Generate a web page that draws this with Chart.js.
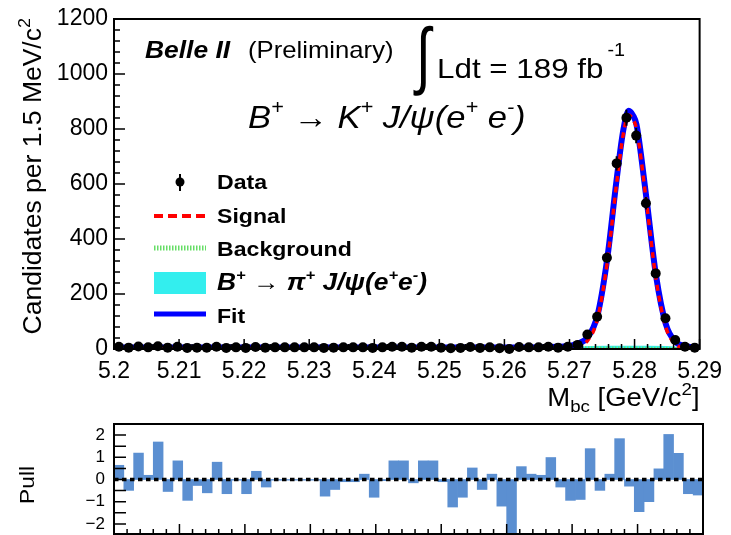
<!DOCTYPE html>
<html>
<head>
<meta charset="utf-8">
<script src="https://cdn.jsdelivr.net/npm/chart.js@4.4.1/dist/chart.umd.min.js"></script>
<style>
  html, body { margin: 0; padding: 0; background: #fff; }
  #wrap { position: relative; width: 731px; height: 535px; overflow: hidden; }
  #mainChart { position: absolute; left: 0; top: 0; }
  #pullChart { position: absolute; left: 0; top: 415px; }
</style>
</head>
<body>
<div id="wrap">
  <canvas id="mainChart" width="731" height="415"></canvas>
  <canvas id="pullChart" width="731" height="120"></canvas>
</div>
<script>
// Histogram bin centres (1.5 MeV bins from 5.20 to 5.29 GeV)
const binCenters = [
  5.20075, 5.20225, 5.20375, 5.20525, 5.20675, 5.20825, 5.20975, 5.21125, 5.21275, 5.21425,
  5.21575, 5.21725, 5.21875, 5.22025, 5.22175, 5.22325, 5.22475, 5.22625, 5.22775, 5.22925,
  5.23075, 5.23225, 5.23375, 5.23525, 5.23675, 5.23825, 5.23975, 5.24125, 5.24275, 5.24425,
  5.24575, 5.24725, 5.24875, 5.25025, 5.25175, 5.25325, 5.25475, 5.25625, 5.25775, 5.25925,
  5.26075, 5.26225, 5.26375, 5.26525, 5.26675, 5.26825, 5.26975, 5.27125, 5.27275, 5.27425,
  5.27575, 5.27725, 5.27875, 5.28025, 5.28175, 5.28325, 5.28475, 5.28625, 5.28775, 5.28925
];

// Candidates per bin
const dataCounts = [
  8, 5, 9, 6, 10, 5, 8, 4, 5, 5,
  8, 4, 6, 4, 7, 5, 6, 6, 6, 6,
  6, 4, 5, 6, 6, 6, 4, 6, 8, 8,
  5, 8, 8, 5, 3, 4, 7, 4, 6, 3,
  0, 7, 6, 6, 8, 5, 8, 15, 53, 117,
  332, 675, 841, 776, 530, 275, 112, 33, 8, 5
];

// Pull per bin
const pullValues = [
  0.64, -0.49, 1.19, 0.19, 1.69, -0.54, 0.84, -0.94, -0.27, -0.60,
  0.78, -0.64, -0.03, -0.64, 0.37, -0.34, -0.03, -0.03, -0.03, -0.03,
  -0.03, -0.75, -0.45, -0.10, -0.10, 0.24, -0.80, -0.05, 0.84, 0.84,
  -0.15, 0.84, 0.84, -0.10, -1.24, -0.80, 0.52, -0.45, 0.24, -1.20,
  -2.60, 0.58, 0.24, 0.19, 0.99, -0.34, -0.94, -0.90, 1.39, -0.49,
  0.24, 1.84, -0.30, -1.45, -1.00, 0.48, 2.03, 1.18, -0.64, -0.70
];

// Fit curves sampled along M_bc
const curveX = [5.200, 5.215, 5.230, 5.245, 5.260, 5.266, 5.268, 5.2698, 5.2712, 5.2728, 5.2743, 5.2758,
  5.2773, 5.2783, 5.2791, 5.2798, 5.2803, 5.2818, 5.2833, 5.2848, 5.2863, 5.2878, 5.2893, 5.290];
const fitY = [5.5, 5.5, 5.4, 5.3, 5.2, 6, 8, 10, 19, 43, 122, 328,
  627, 800, 866, 848, 816, 553, 267, 91, 26, 10, 6, 5];
const signalY = [0, 0, 0, 0, 0, 0.5, 2, 4, 10, 31, 109, 314,
  612, 785, 851, 833, 801, 539, 254, 79, 17, 3, 0.5, 0];

const bkgX = [5.200, 5.220, 5.240, 5.260, 5.270, 5.280, 5.285, 5.288, 5.290];
const bkgY = [5.5, 5.4, 5.2, 4.8, 4.4, 3.5, 2.5, 1.3, 0];

const piX = [5.2705, 5.2715, 5.2730, 5.2760, 5.2790, 5.2820, 5.2850, 5.2865, 5.2875];
const piY = [0, 8, 11, 12, 12, 12, 11, 8, 0];

// Axis tick labels
const xTickValues = [5.2, 5.21, 5.22, 5.23, 5.24, 5.25, 5.26, 5.27, 5.28, 5.29];
const yTickValues = [0, 200, 400, 600, 800, 1000, 1200];
const pullTickValues = [-2, -1, 0, 1, 2];

const SANS = '"Liberation Sans", Arial, Helvetica, sans-serif';
function font(size, style) {
  return (style ? style + ' ' : '') + size + 'px ' + SANS;
}

// draw a run of text pieces (for super/subscripts), stretched by sx along the text
function drawParts(ctx, x, y, parts, sx) {
  ctx.save();
  ctx.translate(x, y);
  ctx.scale(sx, 1);
  let cx = 0;
  for (const p of parts) {
    ctx.font = p.font;
    ctx.fillText(p.t, cx, p.dy || 0);
    cx += ctx.measureText(p.t).width;
  }
  ctx.restore();
  return cx * sx;
}
function partsWidth(ctx, parts, sx) {
  let w = 0;
  ctx.save();
  for (const p of parts) {
    ctx.font = p.font;
    w += ctx.measureText(p.t).width;
  }
  ctx.restore();
  return w * sx;
}

// inward ROOT-style ticks
function xTicks(ctx, scale, yBase, dir, min, step, count, every, majLen, minLen) {
  for (let i = 0; i <= count; i++) {
    const px = scale.getPixelForValue(min + i * step);
    const len = i % every === 0 ? majLen : minLen;
    ctx.moveTo(px, yBase);
    ctx.lineTo(px, yBase + dir * len);
  }
}
function yTicks(ctx, scale, xBase, min, step, count, every, majLen, minLen) {
  for (let i = 0; i <= count; i++) {
    const py = scale.getPixelForValue(min + i * step);
    const len = i % every === 0 ? majLen : minLen;
    ctx.moveTo(xBase, py);
    ctx.lineTo(xBase + len, py);
  }
}

// keep the plot area where the layout padding puts it
function fixYAxis(s) {
  s.width = 114;
  s.paddingTop = 0;
  s.paddingBottom = 0;
}

const mainFrame = {
  id: 'mainFrame',
  afterDatasetsDraw(chart) {
    const { ctx, chartArea: a, scales: { x, y } } = chart;
    ctx.save();
    // error bars of the data points
    ctx.strokeStyle = '#000';
    ctx.lineWidth = 2;
    ctx.beginPath();
    binCenters.forEach((bx, i) => {
      const e = Math.sqrt(dataCounts[i]);
      const px = x.getPixelForValue(bx);
      ctx.moveTo(px, y.getPixelForValue(dataCounts[i] - e));
      ctx.lineTo(px, y.getPixelForValue(dataCounts[i] + e));
    });
    ctx.stroke();
    // ticks
    ctx.lineWidth = 1.5;
    ctx.beginPath();
    xTicks(ctx, x, a.bottom, -1, 5.2, 0.002, 45, 5, 10, 5);
    yTicks(ctx, y, a.left, 0, 40, 30, 5, 11, 6);
    ctx.stroke();
    // frame
    ctx.lineWidth = 2;
    ctx.strokeRect(a.left, a.top, a.right - a.left, a.bottom - a.top);
    ctx.restore();
  },
  afterDraw(chart) {
    const ctx = chart.ctx;
    ctx.save();
    ctx.fillStyle = '#000';
    ctx.textBaseline = 'alphabetic';
    ctx.textAlign = 'left';

    // experiment labels
    drawParts(ctx, 145, 58, [{ t: 'Belle II', font: font(24, 'italic bold') }], 1.1);
    drawParts(ctx, 248, 58, [{ t: '(Preliminary)', font: font(24) }], 1.07);
    drawParts(ctx, 416, 80, [{ t: '\u222B', font: font(74) }], 0.72);
    const w = drawParts(ctx, 437, 78, [{ t: 'Ldt = 189 fb', font: font(28) }], 1.12);
    drawParts(ctx, 437 + w + 4, 56, [{ t: '-1', font: font(18) }], 1.1);

    // decay
    drawParts(ctx, 248, 128, [
      { t: 'B', font: font(32, 'italic') },
      { t: '+', font: font(20, 'italic'), dy: -14 },
      { t: ' \u2192 ', font: font(32) },
      { t: 'K', font: font(32, 'italic') },
      { t: '+', font: font(20, 'italic'), dy: -14 },
      { t: ' J/\u03C8(e', font: font(32, 'italic') },
      { t: '+', font: font(20, 'italic'), dy: -14 },
      { t: ' e', font: font(32, 'italic') },
      { t: '-', font: font(20, 'italic'), dy: -14 },
      { t: ')', font: font(32, 'italic') }
    ], 1.08);

    // legend
    const lx = 217, sx0 = 154, sx1 = 206;
    ctx.strokeStyle = '#000';
    ctx.lineWidth = 2;
    ctx.beginPath();
    ctx.moveTo(180, 174); ctx.lineTo(180, 191);
    ctx.stroke();
    ctx.beginPath();
    ctx.arc(180, 182, 4.5, 0, Math.PI * 2);
    ctx.fill();
    drawParts(ctx, lx, 189, [{ t: 'Data', font: font(21, 'bold') }], 1.1);

    ctx.strokeStyle = '#ff0000';
    ctx.lineWidth = 4;
    ctx.setLineDash([9, 5]);
    ctx.beginPath(); ctx.moveTo(sx0, 216); ctx.lineTo(sx1, 216); ctx.stroke();
    drawParts(ctx, lx, 223, [{ t: 'Signal', font: font(21, 'bold') }], 1.1);

    ctx.strokeStyle = '#66dd66';
    ctx.lineWidth = 5;
    ctx.setLineDash([1.5, 1.5]);
    ctx.beginPath(); ctx.moveTo(sx0, 248); ctx.lineTo(sx1, 248); ctx.stroke();
    ctx.setLineDash([]);
    drawParts(ctx, lx, 256, [{ t: 'Background', font: font(21, 'bold') }], 1.1);

    ctx.fillStyle = '#33eeee';
    ctx.fillRect(sx0, 272, sx1 - sx0, 22);
    ctx.fillStyle = '#000';
    drawParts(ctx, lx, 290, [
      { t: 'B', font: font(24, 'italic bold') },
      { t: '+', font: font(15, 'italic bold'), dy: -10 },
      { t: ' \u2192 ', font: font(24) },
      { t: '\u03C0', font: font(24, 'italic bold') },
      { t: '+', font: font(15, 'italic bold'), dy: -10 },
      { t: ' J/\u03C8(e', font: font(24, 'italic bold') },
      { t: '+', font: font(15, 'italic bold'), dy: -10 },
      { t: 'e', font: font(24, 'italic bold') },
      { t: '-', font: font(15, 'italic bold'), dy: -10 },
      { t: ')', font: font(24, 'italic bold') }
    ], 1.1);

    ctx.strokeStyle = '#0000ff';
    ctx.lineWidth = 5;
    ctx.beginPath(); ctx.moveTo(sx0, 314); ctx.lineTo(sx1, 314); ctx.stroke();
    drawParts(ctx, lx, 323, [{ t: 'Fit', font: font(21, 'bold') }], 1.1);

    // x axis title, right aligned to the frame
    const xt = [
      { t: 'M', font: font(25) },
      { t: 'bc', font: font(17), dy: 6 },
      { t: ' [GeV/c', font: font(25) },
      { t: '2', font: font(17), dy: -11 },
      { t: ']', font: font(25) }
    ];
    const a = chart.chartArea;
    drawParts(ctx, a.right - partsWidth(ctx, xt, 1.1), 406, xt, 1.1);

    // y axis title, rotated, aligned to the top of the frame
    const yt = [
      { t: 'Candidates per 1.5 MeV/c', font: font(25) },
      { t: '2', font: font(17), dy: -11 }
    ];
    const yw = partsWidth(ctx, yt, 1.06);
    ctx.translate(41, a.top - 1 + yw);
    ctx.rotate(-Math.PI / 2);
    drawParts(ctx, 0, 0, yt, 1.06);
    ctx.restore();
  }
};

const pullFrame = {
  id: 'pullFrame',
  afterDatasetsDraw(chart) {
    const { ctx, chartArea: a, scales: { x, y } } = chart;
    ctx.save();
    // zero line
    ctx.strokeStyle = '#000';
    ctx.lineWidth = 3.5;
    ctx.setLineDash([4.5, 3.5]);
    ctx.beginPath();
    ctx.moveTo(a.left, y.getPixelForValue(0));
    ctx.lineTo(a.right, y.getPixelForValue(0));
    ctx.stroke();
    ctx.setLineDash([]);
    // ticks
    ctx.lineWidth = 1.5;
    ctx.beginPath();
    xTicks(ctx, x, a.bottom - 1, -1, 5.2, 0.002, 45, 5, 10, 5);
    yTicks(ctx, y, a.left, -2.5, 0.5, 10, 1, 12, 12);
    ctx.stroke();
    ctx.lineWidth = 2;
    ctx.strokeRect(a.left, a.top, a.right - a.left, a.bottom - 1 - a.top);
    ctx.restore();
  },
  afterDraw(chart) {
    const ctx = chart.ctx;
    ctx.save();
    ctx.fillStyle = '#000';
    const pt = [{ t: 'Pull', font: font(20) }];
    const pw = partsWidth(ctx, pt, 1.14);
    ctx.translate(34, 70 + pw / 2);
    ctx.rotate(-Math.PI / 2);
    drawParts(ctx, 0, 0, pt, 1.14);
    ctx.restore();
  }
};

const tickFont = { family: SANS, size: 23 };

new Chart(document.getElementById('mainChart'), {
  type: 'scatter',
  data: {
    datasets: [
      {
        label: 'Data',
        data: binCenters.map((bx, i) => ({ x: bx, y: dataCounts[i] })),
        showLine: false,
        pointRadius: 5,
        pointBackgroundColor: '#000',
        pointBorderWidth: 0,
        clip: false
      },
      {
        label: 'Signal',
        data: curveX.map((cx, i) => ({ x: cx, y: signalY[i] })),
        showLine: true,
        borderColor: '#ff0000',
        borderWidth: 3.5,
        borderDash: [6, 5],
        pointRadius: 0,
        cubicInterpolationMode: 'monotone',
        fill: false
      },
      {
        label: 'Fit',
        data: curveX.map((cx, i) => ({ x: cx, y: fitY[i] })),
        showLine: true,
        borderColor: '#0000ff',
        borderWidth: 6,
        pointRadius: 0,
        cubicInterpolationMode: 'monotone',
        fill: false
      },
      {
        label: 'Background',
        data: bkgX.map((cx, i) => ({ x: cx, y: bkgY[i] })),
        showLine: true,
        borderColor: '#66dd66',
        borderWidth: 3,
        borderDash: [1.5, 1.5],
        pointRadius: 0,
        fill: false
      },
      {
        label: 'B+ -> pi+ J/psi(e+e-)',
        data: piX.map((cx, i) => ({ x: cx, y: piY[i] })),
        showLine: true,
        borderWidth: 0,
        borderColor: 'rgba(0,0,0,0)',
        backgroundColor: '#33eeee',
        pointRadius: 0,
        fill: 'origin'
      }
    ]
  },
  options: {
    responsive: false,
    animation: false,
    events: [],
    layout: { padding: { left: 0, right: 28, top: 19, bottom: 0 } },
    plugins: { legend: { display: false }, tooltip: { enabled: false } },
    scales: {
      x: {
        type: 'linear', min: 5.2, max: 5.29,
        grid: { display: false, drawTicks: false },
        border: { display: false },
        afterBuildTicks: s => { s.ticks = xTickValues.map(v => ({ value: v })); },
        afterFit: s => { s.height = 66; },
        ticks: { font: tickFont, color: '#000', padding: 9, maxRotation: 0, autoSkip: false, callback: v => String(v) }
      },
      y: {
        min: 0, max: 1200,
        grid: { display: false, drawTicks: false },
        border: { display: false },
        afterBuildTicks: s => { s.ticks = yTickValues.map(v => ({ value: v })); },
        afterFit: fixYAxis,
        ticks: { font: tickFont, color: '#000', padding: 6, callback: v => String(v) }
      }
    }
  },
  plugins: [mainFrame]
});

new Chart(document.getElementById('pullChart'), {
  type: 'bar',
  data: {
    datasets: [{
      label: 'Pull',
      data: binCenters.map((bx, i) => ({ x: bx, y: pullValues[i] })),
      backgroundColor: '#5b8fd1',
      borderWidth: 0,
      barPercentage: 1,
      categoryPercentage: 1
    }]
  },
  options: {
    responsive: false,
    animation: false,
    events: [],
    layout: { padding: { left: 0, right: 28, top: 9, bottom: 0 } },
    plugins: { legend: { display: false }, tooltip: { enabled: false } },
    scales: {
      x: { type: 'linear', min: 5.2, max: 5.29, offset: false, display: false },
      y: {
        min: -2.5, max: 2.5,
        grid: { display: false, drawTicks: false },
        border: { display: false },
        afterBuildTicks: s => { s.ticks = pullTickValues.map(v => ({ value: v })); },
        afterFit: fixYAxis,
        ticks: { font: { family: SANS, size: 17 }, color: '#000', padding: 9,
          callback: v => (v < 0 ? '\u2212' + (-v) : String(v)) }
      }
    }
  },
  plugins: [pullFrame]
});
</script>
</body>
</html>
